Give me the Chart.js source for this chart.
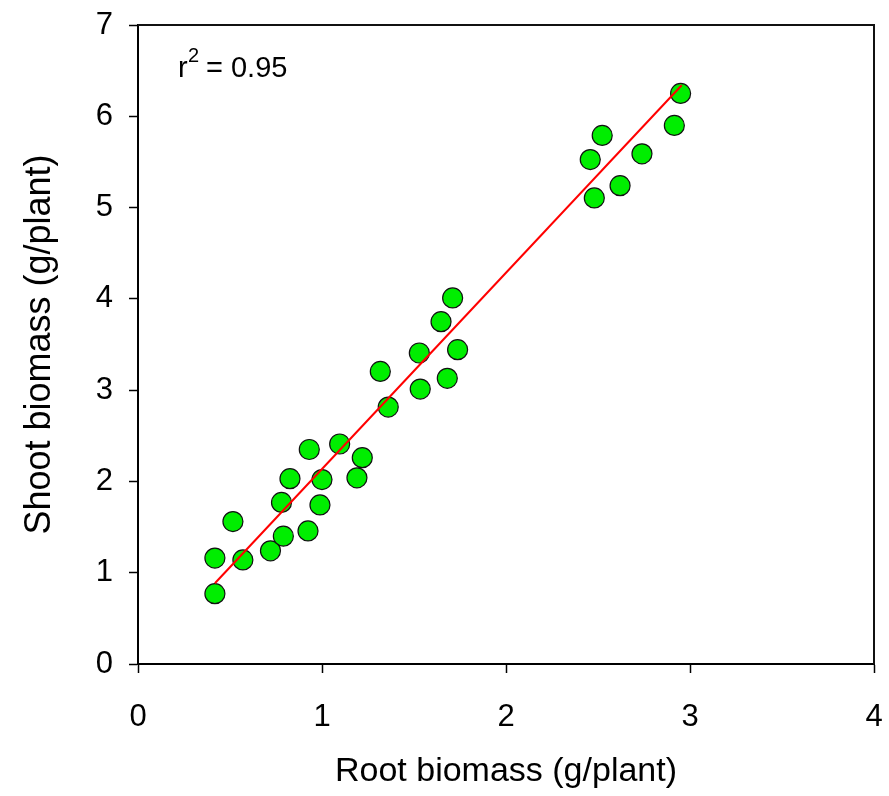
<!DOCTYPE html>
<html>
<head>
<meta charset="utf-8">
<script src="https://cdn.jsdelivr.net/npm/chart.js@4/dist/chart.umd.min.js"></script>
<style>
  html, body { margin: 0; padding: 0; background: #fff; }
  #wrap { width: 889px; height: 796px; }
</style>
</head>
<body>
<div id="wrap"><canvas id="c" width="889" height="796"></canvas></div>
<script>
// ---- data ----
const rootBiomass = [0.418, 0.418, 0.516, 0.57, 0.72, 0.78, 0.826, 0.79, 0.924, 0.931,
                     0.989, 1.0, 1.096, 1.19, 1.219, 1.317, 1.36, 1.529, 1.534, 1.681,
                     1.647, 1.71, 1.737, 2.458, 2.523, 2.48, 2.62, 2.739, 2.915, 2.949];
const shootBiomass = [0.77, 1.16, 1.56, 1.14, 1.24, 1.77, 2.03, 1.40, 1.458, 2.35,
                      1.743, 2.02, 2.41, 2.04, 2.26, 3.205, 2.815, 3.407, 3.012, 3.13,
                      3.75, 4.01, 3.443, 5.526, 5.79, 5.106, 5.24, 5.589, 5.90, 6.25];
const fitX = [0.418, 2.955];
const fitY = [0.885, 6.34];
const xTicks = [0, 1, 2, 3, 4];
const yTicks = [0, 1, 2, 3, 4, 5, 6, 7];
const xTitle = 'Root biomass (g/plant)';
const yTitle = 'Shoot biomass (g/plant)';
const r2Label = '0.95';

const FONT = "'Liberation Sans', Arial, sans-serif";

const points = rootBiomass.map((x, i) => ({ x: x, y: shootBiomass[i] }));
const fitLine = fitX.map((x, i) => ({ x: x, y: fitY[i] }));

const framePlugin = {
  id: 'frame',
  afterDraw(chart) {
    const { ctx, chartArea: a } = chart;
    ctx.save();
    ctx.strokeStyle = '#111';
    ctx.lineWidth = 2;
    ctx.beginPath();
    ctx.moveTo(a.left, a.top);
    ctx.lineTo(a.right, a.top);
    ctx.lineTo(a.right, a.bottom);
    ctx.stroke();
    // r^2 annotation
    ctx.fillStyle = '#000';
    ctx.textBaseline = 'alphabetic';
    ctx.textAlign = 'left';
    ctx.font = '29px ' + FONT;
    ctx.fillText('r', 178, 77);
    ctx.font = '20px ' + FONT;
    ctx.fillText('2', 188, 62);
    ctx.font = '29px ' + FONT;
    ctx.fillText('= ' + r2Label, 206, 77);
    ctx.restore();
  }
};

new Chart(document.getElementById('c'), {
  type: 'scatter',
  data: {
    datasets: [
      {
        type: 'line',
        data: fitLine,
        borderColor: '#ff0000',
        borderWidth: 2,
        pointRadius: 0,
        fill: false,
        order: 0
      },
      {
        type: 'scatter',
        data: points,
        backgroundColor: '#00ee00',
        borderColor: '#111',
        borderWidth: 1.2,
        pointRadius: 10,
        pointHoverRadius: 10,
        order: 1
      }
    ]
  },
  options: {
    responsive: false,
    animation: false,
    events: [],
    layout: { padding: { left: 0, top: 25, right: 15, bottom: 0 } },
    plugins: { legend: { display: false }, tooltip: { enabled: false } },
    scales: {
      x: {
        type: 'linear',
        min: 0, max: 4,
        afterBuildTicks(s) { s.ticks = xTicks.map(v => ({ value: v })); },
        afterFit(s) { s.height = 132; s.paddingLeft = 0; s.paddingRight = 0; },
        border: { display: true, color: '#000', width: 2 },
        grid: { display: true, drawOnChartArea: false, drawTicks: true, tickLength: 9, color: '#000', tickWidth: 1.5 },
        ticks: { color: '#000', font: { family: FONT, size: 31 }, padding: 26, maxRotation: 0 },
        title: { display: true, text: xTitle, color: '#000', font: { family: FONT, size: 34 }, padding: { top: 0, bottom: 4 } }
      },
      y: {
        type: 'linear',
        min: 0, max: 7,
        afterBuildTicks(s) { s.ticks = yTicks.map(v => ({ value: v })); },
        afterFit(s) { s.width = 138; s.paddingTop = 0; s.paddingBottom = 0; },
        border: { display: true, color: '#000', width: 2 },
        grid: { display: true, drawOnChartArea: false, drawTicks: true, tickLength: 9, color: '#000', tickWidth: 1.5 },
        ticks: { color: '#000', font: { family: FONT, size: 31 }, padding: 16 },
        title: { display: true, text: yTitle, color: '#000', font: { family: FONT, size: 36 }, padding: { top: 18, bottom: 0 } }
      }
    }
  },
  plugins: [framePlugin]
});
</script>
</body>
</html>
